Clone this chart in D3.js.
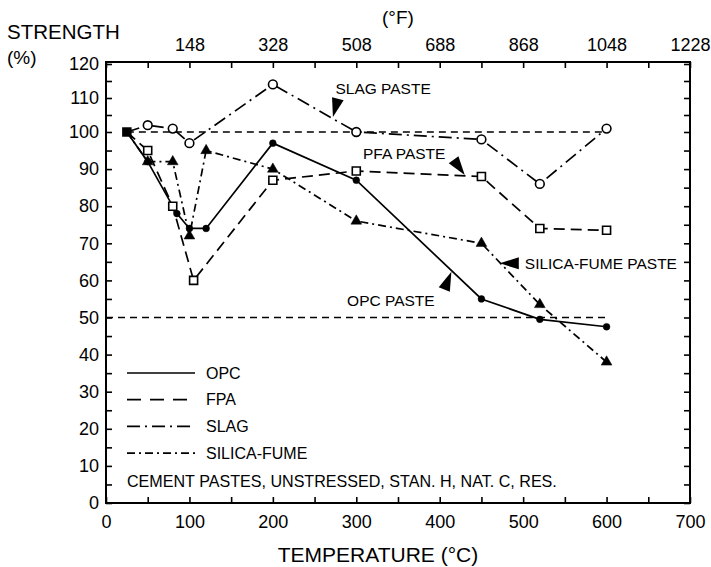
<!DOCTYPE html>
<html>
<head>
<meta charset="utf-8">
<script src="https://cdn.jsdelivr.net/npm/d3@7"></script>
<style>
  body { margin: 0; background: #fff; }
  svg { display: block; font-family: "Liberation Sans", Arial, sans-serif; }
</style>
</head>
<body>
<div id="chart"></div>
<script>
// readings taken off the figure: temperature (°C) vs residual strength (%)
const opcTemp = [25, 50, 85, 100, 120, 200, 300, 450, 520, 600];
const opcStrength = [100, 92, 78, 74, 74, 97, 87, 55, 49.5, 47.5];

const pfaTemp = [25, 50, 80, 105, 200, 300, 450, 520, 600];
const pfaStrength = [100, 95, 80, 60, 87, 89.5, 88, 74, 73.5];

const slagTemp = [25, 50, 80, 100, 200, 300, 450, 520, 600];
const slagStrength = [100, 102, 101, 97, 114, 100, 98, 86, 101];

const silicaTemp = [25, 50, 80, 100, 120, 200, 300, 450, 520, 600];
const silicaStrength = [100, 92, 92, 72, 95, 90, 76, 70, 53.5, 38];

// dashed guide lines at 100 % and 50 %
const guideStrength = [100, 50];
const guideStart = [25, 0];
const guideEnd = [600, 600];

const tempLabels = [0, 100, 200, 300, 400, 500, 600, 700];
const fahrenheitLabels = ['148', '328', '508', '688', '868', '1048', '1228'];
const strengthLabels = [0, 10, 20, 30, 40, 50, 60, 70, 80, 90, 100, 110, 120];

const legendNames = ['OPC', 'FPA', 'SLAG', 'SILICA-FUME'];

const noteText = ['SLAG PASTE', 'PFA PASTE', 'SILICA-FUME PASTE', 'OPC PASTE'];
const noteTemp = [275, 308, 502, 289];
const noteStrength = [111.3, 92.7, 63.1, 53.1];
const arrowTemp = [272, 430, 472, 414];
const arrowStrength = [104.4, 88.4, 64.6, 62.3];
const arrowAngle = [105, 54, 180, -68];

const width = 711;
const height = 567;

const svg = d3.select('#chart')
  .append('svg')
  .attr('width', width)
  .attr('height', height);

const x = d3.scaleLinear().domain([0, 700]).range([106, 690]);
// the printed axis is squeezed above 100 %
const y = d3.scaleLinear().domain([0, 100, 120]).range([503, 132, 64]);

const frameTop = y(120) - 2;

function styleAxis(g) {
  g.attr('font-size', 18).attr('font-family', null);
  g.select('.domain').remove();
  g.selectAll('.tick line').attr('stroke', '#000').attr('stroke-width', 1.6);
  g.selectAll('.tick text').attr('fill', '#000');
}

const tempTicks = d3.range(0, 701, 50);
const strengthTicks = d3.range(0, 121, 5);

svg.append('g')
  .attr('transform', `translate(0, ${y(0)})`)
  .call(d3.axisBottom(x).tickValues(tempTicks).tickSizeInner(-6).tickSizeOuter(0).tickPadding(12)
    .tickFormat((d) => (tempLabels.includes(d) ? d : '')))
  .call(styleAxis);

svg.append('g')
  .attr('transform', `translate(0, ${frameTop})`)
  .call(d3.axisTop(x).tickValues(tempTicks).tickSizeInner(-6).tickSizeOuter(0).tickPadding(11)
    .tickFormat((d) => (d > 0 && d % 100 === 0 ? fahrenheitLabels[d / 100 - 1] : '')))
  .call(styleAxis);

svg.append('g')
  .attr('transform', `translate(${x(0)}, 0)`)
  .call(d3.axisLeft(y).tickValues(strengthTicks).tickSizeInner(-6).tickSizeOuter(0).tickPadding(7)
    .tickFormat((d) => (strengthLabels.includes(d) ? d : '')))
  .call(styleAxis);

svg.append('g')
  .attr('transform', `translate(${x(700)}, 0)`)
  .call(d3.axisRight(y).tickValues(strengthTicks).tickSizeInner(-6).tickSizeOuter(0).tickFormat(''))
  .call(styleAxis);

svg.append('rect')
  .attr('x', x(0))
  .attr('y', frameTop)
  .attr('width', x(700) - x(0))
  .attr('height', y(0) - frameTop)
  .attr('fill', 'none')
  .attr('stroke', '#000')
  .attr('stroke-width', 2);

// axis titles
svg.append('text').attr('x', 7).attr('y', 39).attr('font-size', 20.5).text('STRENGTH');
svg.append('text').attr('x', 7).attr('y', 64).attr('font-size', 19).text('(%)');
svg.append('text').attr('x', 382).attr('y', 24).attr('font-size', 19).text('(°F)');
svg.append('text').attr('x', 378).attr('y', 562).attr('font-size', 21)
  .attr('text-anchor', 'middle').text('TEMPERATURE (°C)');

// guide lines
svg.append('g')
  .selectAll('line')
  .data(guideStrength)
  .join('line')
  .attr('x1', (d, i) => x(guideStart[i]))
  .attr('x2', (d, i) => x(guideEnd[i]))
  .attr('y1', (d) => y(d))
  .attr('y2', (d) => y(d))
  .attr('stroke', '#000')
  .attr('stroke-width', 1.3)
  .attr('stroke-dasharray', '7,5');

const series = [
  { name: 'OPC', temp: opcTemp, strength: opcStrength, dash: null, marker: 'dot' },
  { name: 'FPA', temp: pfaTemp, strength: pfaStrength, dash: '11,6', marker: 'square' },
  { name: 'SLAG', temp: slagTemp, strength: slagStrength, dash: '13,5,2,5', marker: 'circle' },
  { name: 'SILICA-FUME', temp: silicaTemp, strength: silicaStrength, dash: '8,4,2,4', marker: 'triangle' },
];

const line = d3.line()
  .x((d) => x(d[0]))
  .y((d) => y(d[1]));

svg.append('g')
  .selectAll('path')
  .data(series)
  .join('path')
  .attr('d', (s) => line(d3.zip(s.temp, s.strength)))
  .attr('fill', 'none')
  .attr('stroke', '#000')
  .attr('stroke-width', 1.7)
  .attr('stroke-dasharray', (s) => s.dash);

const symbolFor = {
  dot: d3.symbol(d3.symbolCircle, 36),
  square: d3.symbol(d3.symbolSquare, 64),
  circle: d3.symbol(d3.symbolCircle, 60),
  triangle: d3.symbol(d3.symbolTriangle, 50),
};

for (const s of series) {
  const pts = d3.zip(s.temp, s.strength).slice(1);
  const open = s.marker === 'square' || s.marker === 'circle';
  svg.append('g')
    .selectAll('path')
    .data(pts)
    .join('path')
    .attr('transform', (d) => `translate(${x(d[0])}, ${y(d[1])})`)
    .attr('d', symbolFor[s.marker]())
    .attr('fill', open ? '#fff' : '#000')
    .attr('stroke', '#000')
    .attr('stroke-width', open ? 1.6 : 0.5);
}

// common starting point (filled square)
svg.append('path')
  .attr('transform', `translate(${x(opcTemp[0])}, ${y(opcStrength[0])})`)
  .attr('d', d3.symbol(d3.symbolSquare, 90)())
  .attr('fill', '#000');

// annotations with wedge arrows
function wedge(tx, ty, angle, len, wid) {
  const a = (angle * Math.PI) / 180;
  const dx = Math.cos(a);
  const dy = Math.sin(a);
  const bx = tx - len * dx;
  const by = ty - len * dy;
  return [
    [tx, ty],
    [bx - (wid / 2) * dy, by + (wid / 2) * dx],
    [bx + (wid / 2) * dy, by - (wid / 2) * dx],
  ];
}

svg.append('g')
  .selectAll('text')
  .data(noteText)
  .join('text')
  .attr('x', (d, i) => x(noteTemp[i]))
  .attr('y', (d, i) => y(noteStrength[i]))
  .attr('font-size', 15.5)
  .text((d) => d);

svg.append('g')
  .selectAll('polygon')
  .data(noteText)
  .join('polygon')
  .attr('points', (d, i) => wedge(x(arrowTemp[i]), y(arrowStrength[i]), arrowAngle[i], 19, 12).join(' '))
  .attr('fill', '#000');

// legend
const legend = svg.append('g').attr('transform', 'translate(127, 373)');
const legendRows = legend.selectAll('g')
  .data(series)
  .join('g')
  .attr('transform', (d, i) => `translate(0, ${i * 26.7})`);

legendRows.append('line')
  .attr('x1', 0)
  .attr('x2', 68)
  .attr('stroke', '#000')
  .attr('stroke-width', 1.7)
  .attr('stroke-dasharray', (s) => (s.name === 'FPA' ? '14,9' : s.dash));

legendRows.append('text')
  .attr('x', 79)
  .attr('dy', '0.36em')
  .attr('font-size', 16)
  .text((s, i) => legendNames[i]);

svg.append('text')
  .attr('x', 127)
  .attr('y', 487)
  .attr('font-size', 16.1)
  .text('CEMENT PASTES, UNSTRESSED, STAN. H, NAT. C, RES.');
</script>
</body>
</html>
